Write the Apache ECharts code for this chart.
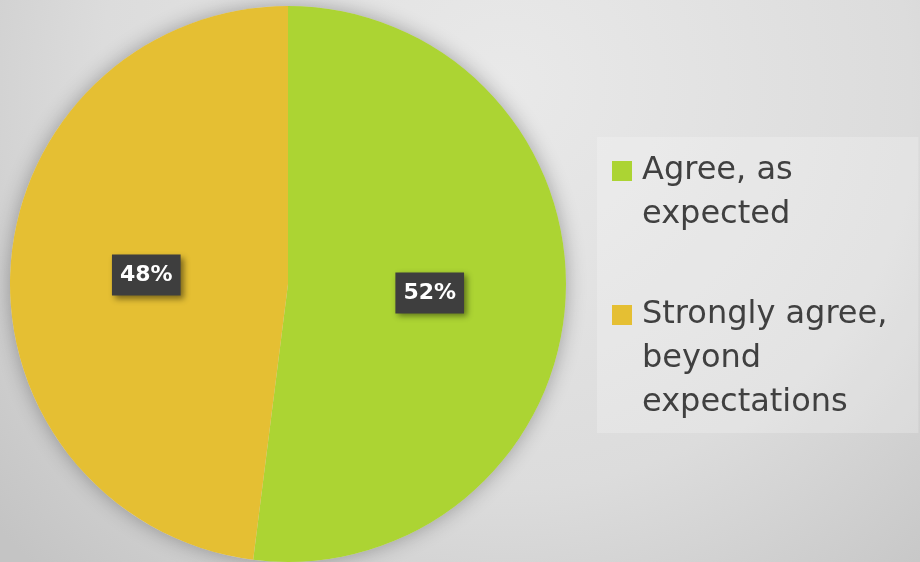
<!DOCTYPE html>
<html>
<head>
<meta charset="utf-8">
<style>
  html, body { margin: 0; padding: 0; }
  #chart { width: 920px; height: 562px; }
</style>
<script src="https://cdn.jsdelivr.net/npm/echarts@6/dist/echarts.min.js"></script>
</head>
<body>
<div id="chart"></div>
<script>
var categories = ['Agree, as expected', 'Strongly agree, beyond expectations'];
var legendLines = ['Agree, as\nexpected', 'Strongly agree,\nbeyond\nexpectations'];
var values = [52, 48];
var colors = ['#acd433', '#e5bf33'];

var LINE_H = 44;
var MAX_LINES = 3;

var chart = echarts.init(document.getElementById('chart'));

var pieData = [];
for (var i = 0; i < categories.length; i++) {
  pieData.push({ name: categories[i], value: values[i], itemStyle: { color: colors[i] } });
}

// square icon sitting on the first text line, invisible points stretch the box
var iconPath = 'path://M0,0L0,0.01Z M25,132L25,131.99Z M0,12L20,12L20,32L0,32Z';

chart.setOption({
  backgroundColor: {
    type: 'radial', x: 0.55, y: 0.15, r: 1.2,
    colorStops: [
      { offset: 0, color: '#e9e9e9' },
      { offset: 0.6, color: '#dcdcdc' },
      { offset: 1, color: '#c4c4c4' }
    ]
  },
  legend: {
    orient: 'vertical',
    left: 597,
    top: 137,
    padding: [12, 31, 8, 15],
    backgroundColor: 'rgba(255,255,255,0.22)',
    itemWidth: 25,
    itemHeight: LINE_H * MAX_LINES,
    itemGap: 12,
    icon: iconPath,
    selectedMode: false,
    data: categories,
    formatter: function (name) {
      var txt = legendLines[categories.indexOf(name)];
      // pad every entry to the same number of lines so the squares line up with line one
      while (txt.split('\n').length < MAX_LINES) txt += '\n ';
      return txt;
    },
    textStyle: {
      fontFamily: 'DejaVu Sans',
      fontSize: 32,
      lineHeight: LINE_H,
      color: '#404040'
    }
  },
  series: [
    {
      // soft shadow behind the pie
      type: 'pie',
      silent: true,
      center: [288, 284],
      radius: 278,
      z: 1,
      label: { show: false },
      labelLine: { show: false },
      itemStyle: {
        color: '#d8d8d8',
        shadowBlur: 20,
        shadowColor: 'rgba(0,0,0,0.3)'
      },
      data: [{ name: '_shadow', value: 1 }]
    },
    {
      type: 'pie',
      center: [288, 284],
      radius: 278,
      startAngle: 90,
      clockwise: true,
      z: 2,
      animation: false,
      emphasis: { disabled: true },
      label: {
        show: true,
        position: 'inside',
        formatter: '{c}%',
        color: '#ffffff',
        fontFamily: 'DejaVu Sans',
        fontWeight: 'bold',
        fontSize: 22,
        backgroundColor: '#3e3e3e',
        padding: [10, 8, 9, 8],
        shadowColor: 'rgba(0,0,0,0.45)',
        shadowBlur: 6,
        shadowOffsetX: 3,
        shadowOffsetY: 3
      },
      labelLine: { show: false },
      data: pieData
    }
  ]
});
</script>
</body>
</html>
